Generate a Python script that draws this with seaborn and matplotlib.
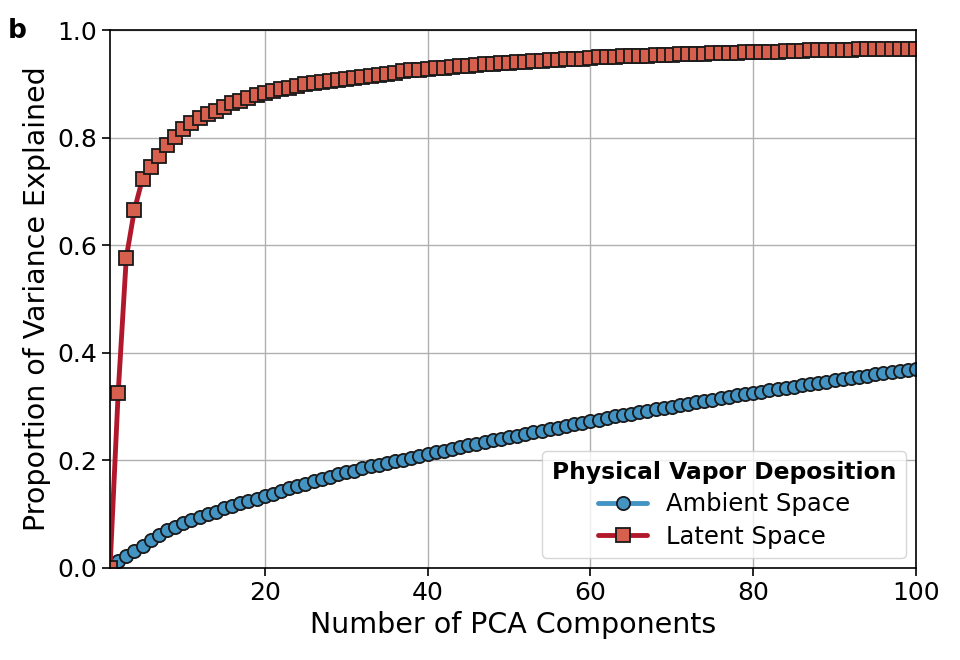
import numpy as np
import pandas as pd
import matplotlib
matplotlib.use("Agg")
import matplotlib.pyplot as plt
import seaborn as sns

# number of PCA components
n_comp = list(range(1, 101))

# cumulative explained variance, ambient space
ambient = [
    0.003, 0.013, 0.023, 0.032, 0.041, 0.052, 0.062, 0.070, 0.077, 0.084,
    0.090, 0.095, 0.100, 0.105, 0.111, 0.116, 0.120, 0.124, 0.129, 0.133,
    0.138, 0.143, 0.148, 0.153, 0.157, 0.161, 0.165, 0.170, 0.174, 0.178,
    0.181, 0.185, 0.189, 0.192, 0.195, 0.198, 0.201, 0.205, 0.209, 0.212,
    0.215, 0.218, 0.221, 0.225, 0.228, 0.231, 0.234, 0.237, 0.240, 0.243,
    0.246, 0.249, 0.252, 0.255, 0.258, 0.261, 0.264, 0.267, 0.270, 0.273,
    0.276, 0.279, 0.282, 0.284, 0.287, 0.290, 0.292, 0.295, 0.298, 0.300,
    0.303, 0.305, 0.308, 0.311, 0.313, 0.316, 0.318, 0.321, 0.323, 0.326,
    0.328, 0.330, 0.333, 0.335, 0.337, 0.340, 0.342, 0.344, 0.346, 0.349,
    0.351, 0.353, 0.355, 0.357, 0.360, 0.362, 0.364, 0.366, 0.368, 0.370,
]

# cumulative explained variance, latent space
latent = [
    0.000, 0.325, 0.577, 0.666, 0.724, 0.746, 0.766, 0.786, 0.802, 0.816,
    0.827, 0.836, 0.843, 0.850, 0.857, 0.864, 0.869, 0.874, 0.879, 0.883,
    0.887, 0.890, 0.893, 0.896, 0.899, 0.901, 0.903, 0.905, 0.907, 0.909,
    0.911, 0.913, 0.915, 0.917, 0.919, 0.921, 0.923, 0.925, 0.926, 0.928,
    0.929, 0.930, 0.932, 0.933, 0.934, 0.935, 0.936, 0.937, 0.938, 0.939,
    0.940, 0.941, 0.942, 0.943, 0.944, 0.945, 0.946, 0.946, 0.947, 0.948,
    0.949, 0.949, 0.950, 0.951, 0.951, 0.952, 0.952, 0.953, 0.954, 0.954,
    0.955, 0.955, 0.956, 0.956, 0.957, 0.957, 0.958, 0.958, 0.959, 0.959,
    0.960, 0.960, 0.960, 0.961, 0.961, 0.961, 0.962, 0.962, 0.962, 0.963,
    0.963, 0.963, 0.964, 0.964, 0.964, 0.964, 0.965, 0.965, 0.965, 0.965,
]

sns.set_style("whitegrid")
plt.rcParams['font.family'] = ['DejaVu Sans']
plt.rcParams['text.color'] = 'black'
plt.rcParams['axes.labelcolor'] = 'black'
plt.rcParams['xtick.color'] = 'black'
plt.rcParams['ytick.color'] = 'black'

fig = plt.figure(figsize=(9.6, 6.6), dpi=100)
ax = fig.add_axes([0.1146, 0.1394, 0.8396, 0.8151])

#ambient curve
sns.lineplot(x=n_comp, y=ambient, ax=ax, color='#4393c3', linewidth=3.5,
             marker='o', markersize=9.5, markerfacecolor='#4393c3',
             markeredgecolor='#1a1a1a', markeredgewidth=1.3,
             label='Ambient Space')
#latent curve
sns.lineplot(x=n_comp, y=latent, ax=ax, color='#b2182b', linewidth=3.5,
             marker='s', markersize=10, markerfacecolor='#d6604d',
             markeredgecolor='#1a1a1a', markeredgewidth=1.3,
             label='Latent Space')

ax.set_xlim(1, 100)
ax.set_ylim(0, 1.0)
ax.set_xticks([20, 40, 60, 80, 100])
ax.set_yticks([0.0, 0.2, 0.4, 0.6, 0.8, 1.0])
ax.grid(True, color='#b0b0b0', linewidth=1)
for s in ax.spines.values():
    s.set_color('black')
    s.set_linewidth(1.2)
ax.tick_params(axis='both', labelsize=18, direction='out', length=6,
               width=1.2, color='black', labelcolor='black',
               bottom=True, left=True)
ax.set_xlabel('Number of PCA Components', fontsize=20.5, color='black')
ax.set_ylabel('Proportion of Variance Explained', fontsize=20.5, color='black')

leg = ax.legend(loc='lower right', title='Physical Vapor Deposition',
                fontsize=17.5, title_fontsize=16.8, frameon=True,
                borderpad=0.4, labelspacing=0.35, borderaxespad=0.4,
                handlelength=2.0)
leg.get_title().set_fontweight('bold')
leg.get_title().set_color('black')
for t in leg.get_texts():
    t.set_color('black')
leg.get_frame().set_edgecolor('#cccccc')

fig.text(0.008, 0.953, 'b', fontsize=19, fontweight='bold', va='center',
         color='black')

fig.savefig('out.png', dpi=100)
